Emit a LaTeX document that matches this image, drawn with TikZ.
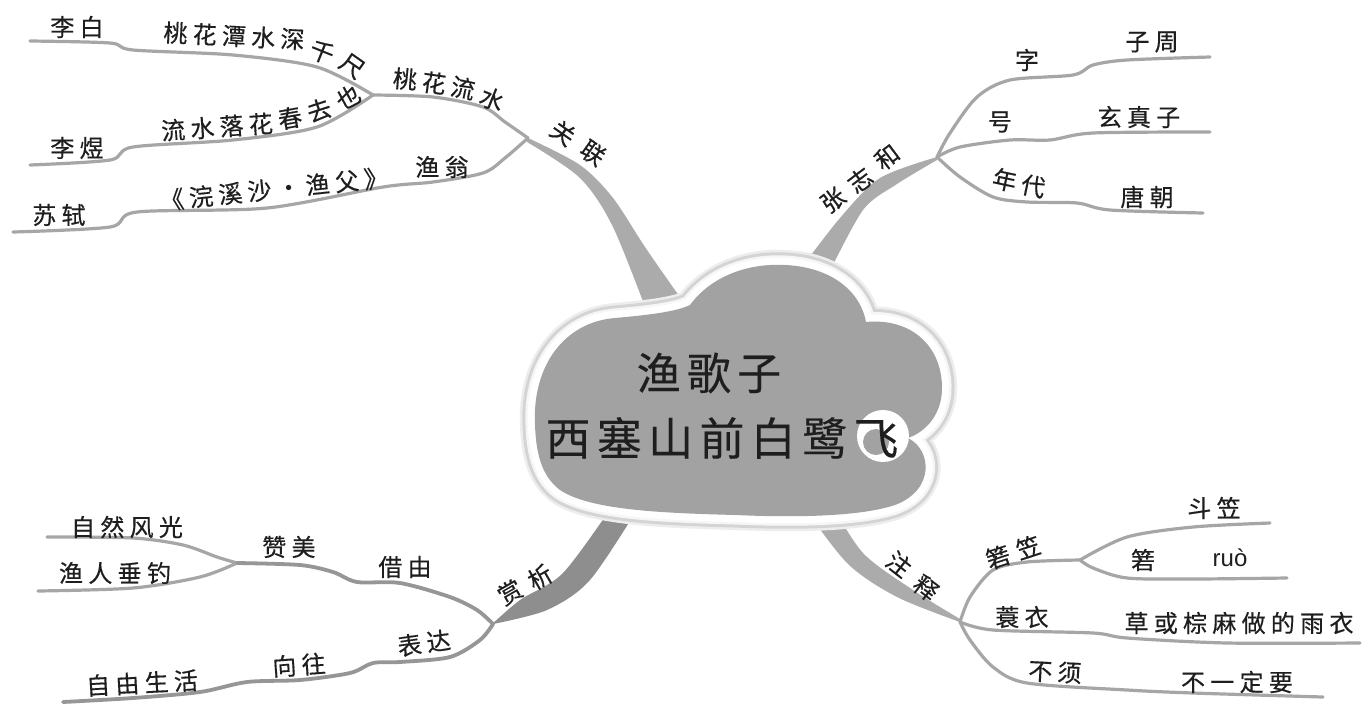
\documentclass[tikz,border=0pt]{standalone}
\usepackage{fontspec}
\newfontfamily\cjk[LetterSpace=22,FakeBold=0.4]{Noto Sans CJK SC}
\newfontfamily\cjkt[LetterSpace=14,FakeBold=0.3]{Noto Sans CJK SC}
\newfontfamily\latf{Liberation Sans}
\definecolor{lncol}{HTML}{A6A6A6}
\definecolor{lndark}{HTML}{969696}
\definecolor{brcol}{HTML}{ABABAB}
\definecolor{brdark}{HTML}{8E8E8E}
\definecolor{cloudfill}{HTML}{A2A2A2}
\definecolor{rimout}{HTML}{EDEDED}
\definecolor{rimcol}{HTML}{D4D4D4}
\definecolor{rimin}{HTML}{F6F6F6}
\definecolor{txt}{HTML}{1E1E1E}
\tikzset{
  lbl/.style={font=\cjk\fontsize{24}{26}\selectfont, inner sep=0pt, text=txt},
  ttl/.style={font=\cjkt\fontsize{44}{48}\selectfont, inner sep=0pt, text=txt},
  thinln/.style={draw=lncol, line width=3.2pt, line cap=round, line join=round},
  thindk/.style={draw=lndark, line width=3.8pt, line cap=round, line join=round},
  branch/.style={fill=brcol},
}
\newcommand\cloudshape[1]{%
  \path[#1] (535,425) .. controls (532,365) and (565,322) .. (615,318)
    .. controls (648,315) and (675,312) .. (690,305)
    .. controls (712,275) and (750,263) .. (785,265)
    .. controls (830,267) and (860,290) .. (866,322)
    .. controls (905,318) and (940,340) .. (942,385)
    .. controls (943,415) and (925,432) .. (908,438)
    .. controls (932,450) and (935,490) .. (895,505)
    .. controls (850,520) and (760,516) .. (735,515)
    .. controls (660,513) and (590,510) .. (560,490)
    .. controls (540,475) and (536,450) .. (535,425) -- cycle;}
\begin{document}
\begin{tikzpicture}[x=1pt,y=-1pt]
\useasboundingbox (0,0) rectangle (1362,705);
\fill[white] (0,0) rectangle (1362,705);

% junctions and ends
\coordinate (J0) at (528,138);
\coordinate (J1) at (373,95);
\coordinate (J2) at (937,157);
\coordinate (J4) at (960,622);
\coordinate (J5) at (1080,560);
\coordinate (J6) at (493,624);
\coordinate (J7) at (237,563);
\coordinate (Elibai) at (30,41);
\coordinate (Eliyu) at (30,165);
\coordinate (Esushi) at (13,232);
\coordinate (Ezi) at (1210,57);
\coordinate (Ehao) at (1210,132);
\coordinate (Enian) at (1203,213);
\coordinate (Edou) at (1270,523);
\coordinate (Eruo) at (1287,578);
\coordinate (Esuo) at (1360,643);
\coordinate (Ebu) at (1323,697);
\coordinate (Eziran) at (47,537);
\coordinate (Eyuren) at (38,591);
\coordinate (Eziyou) at (63,702);

% thick branches
\fill[branch] plot[smooth] coordinates {(J0) (580,165) (613,198) (647,250) (696,320)}
  -- plot[smooth] coordinates {(650,320) (613,227) (580,178) (527,142)} -- cycle;
\fill[branch] plot[smooth] coordinates {(J2) (880,178) (840,218) (796,275)}
  -- plot[smooth] coordinates {(828,275) (863,210) (897,184) (937,160)} -- cycle;
\fill[brdark] plot[smooth] coordinates {(J6) (547,610) (590,580) (640,505)}
  -- plot[smooth] coordinates {(613,505) (563,573) (520,600) (490,626)} -- cycle;
\fill[branch] plot[smooth] coordinates {(J4) (897,597) (847,563) (799,500)}
  -- plot[smooth] coordinates {(829,500) (863,553) (913,590) (960,619)} -- cycle;

% thin connectors, top-left
\draw[thinln] plot[smooth] coordinates {(Elibai) (110,43) (133,50) (233,55) (317,67) (J1)};
\draw[thinln] plot[smooth] coordinates {(Eliyu) (110,160) (133,147) (233,140) (317,127) (J1)};
\draw[thinln] plot[smooth] coordinates {(J1) (433,97) (483,107) (505,122) (J0)};
\draw[thinln] plot[smooth] coordinates {(Esushi) (110,227) (137,212) (267,208) (383,187) (433,182) (483,173) (505,158) (J0)};
% top-right
\draw[thinln] plot[smooth] coordinates {(J2) (950,133) (977,97) (1010,80) (1073,75) (1093,65) (1127,60) (Ezi)};
\draw[thinln] plot[smooth] coordinates {(J2) (960,147) (1010,140) (1050,140) (1093,133) (Ehao)};
\draw[thinln] plot[smooth] coordinates {(J2) (960,177) (993,197) (1027,202) (1077,203) (1110,210) (Enian)};
% bottom-right
\draw[thinln] plot[smooth] coordinates {(J4) (970,597) (993,570) (1027,562) (J5)};
\draw[thinln] plot[smooth] coordinates {(J5) (1127,537) (1193,527) (Edou)};
\draw[thinln] plot[smooth] coordinates {(J5) (1093,568) (1127,578) (1193,579) (Eruo)};
\draw[thinln] plot[smooth] coordinates {(J4) (993,630) (1093,633) (1127,638) (1227,643) (Esuo)};
\draw[thinln] plot[smooth] coordinates {(J4) (970,640) (993,667) (1027,683) (1127,690) (1193,693) (Ebu)};
% bottom-left
\draw[thinln] plot[smooth] coordinates {(Eziran) (133,538) (183,545) (217,557) (J7)};
\draw[thinln] plot[smooth] coordinates {(Eyuren) (133,588) (200,577) (J7)};
\draw[thindk] plot[smooth] coordinates {(J7) (300,565) (333,572) (357,582) (400,583) (450,597) (477,610) (J6)};
\draw[thindk] plot[smooth] coordinates {(J6) (480,640) (450,657) (400,662) (373,663) (350,673) (300,680) (247,682) (200,692) (133,698) (Eziyou)};

% cloud
\cloudshape{draw=rimout, line width=30pt, line join=round}
\cloudshape{draw=rimcol, line width=25pt, line join=round}
\cloudshape{draw=rimin, line width=19pt, line join=round}
\cloudshape{draw=white, line width=14pt, line join=round}
\cloudshape{fill=cloudfill}
\fill[white] (883,436) circle[radius=26];
\fill[cloudfill] (876,442) circle[radius=13];

\node[ttl] (title1) at (709,373) {渔歌子};
\node[ttl, font=\cjkt\fontsize{45}{48}\selectfont] (title2) at (722,438) {西塞山前白鹭飞};

% labels top-left
\node[lbl] (libai) at (77,27) {李白};
\node[lbl, rotate=-3] (t1) at (234,36) {桃花潭水深};
\node[lbl, rotate=-22] (t1b) at (322,52) {千};
\node[lbl, rotate=-35] (t1c) at (352,66) {尺};
\node[lbl] (liyu) at (77,148) {李煜};
\node[lbl, rotate=4] (t2) at (217,127) {流水落花};
\node[lbl, rotate=10] (t2b) at (290,118) {春};
\node[lbl, rotate=18] (t2c) at (319,110) {去};
\node[lbl, rotate=28] (t2d) at (348,97) {也};
\node[lbl, rotate=-5] (th1) at (405,79) {桃};
\node[lbl, rotate=-8] (th2) at (434,83) {花};
\node[lbl, rotate=-12] (th3) at (463,88) {流};
\node[lbl, rotate=-22] (th4) at (492,99) {水};
\node[lbl] (sushi) at (59,215) {苏轼};
\node[lbl, rotate=6] (huanxisha) at (274,189) {《浣溪沙·渔父》};
\node[lbl] (yuweng) at (442,167) {渔翁};
\node[lbl, rotate=-35] (guan) at (563,133) {关};
\node[lbl, rotate=-35] (lian) at (593,153) {联};

% labels top-right
\node[lbl, rotate=37] (zhang) at (833,200) {张};
\node[lbl, rotate=37] (zhi) at (860,180) {志};
\node[lbl, rotate=37] (he) at (887,157) {和};
\node[lbl] (zi) at (1027,60) {字};
\node[lbl] (zizhou) at (1152,42) {子周};
\node[lbl] (hao) at (1000,122) {号};
\node[lbl] (xuanzhenzi) at (1139,117) {玄真子};
\node[lbl, rotate=-12] (niandai) at (1019,183) {年代};
\node[lbl] (tangchao) at (1147,197) {唐朝};

% labels bottom-right
\node[lbl, rotate=-38] (zhu) at (899,564) {注};
\node[lbl, rotate=-38] (shi) at (926,588) {释};
\node[lbl, rotate=18] (ruo1) at (998,557) {箬};
\node[lbl, rotate=18] (li1) at (1028,547) {笠};
\node[lbl] (douli) at (1214,508) {斗笠};
\node[lbl] (ruo) at (1143,560) {箬};
\node[font=\latf\fontsize{24}{26}\selectfont, inner sep=0pt, text=txt] (ruopy) at (1230,558) {ruò};
\node[lbl] (suoyi) at (1022,617) {蓑衣};
\node[lbl] (caohuo) at (1239,623) {草或棕麻做的雨衣};
\node[lbl, rotate=-3] (buxu) at (1055,672) {不须};
\node[lbl] (buyi) at (1237,682) {不一定要};

% labels bottom-left
\node[lbl] (ziran) at (127,527) {自然风光};
\node[lbl] (yuren) at (115,573) {渔人垂钓};
\node[lbl] (zanmei) at (289,547) {赞美};
\node[lbl] (jieyou) at (405,567) {借由};
\node[lbl, rotate=30] (shang) at (510,592) {赏};
\node[lbl, rotate=30] (xi) at (540,577) {析};
\node[lbl, rotate=8] (biaoda) at (424,643) {表达};
\node[lbl, rotate=4] (xiangwang) at (299,665) {向往};
\node[lbl, rotate=3] (ziyou) at (142,683) {自由生活};
\end{tikzpicture}
\end{document}
